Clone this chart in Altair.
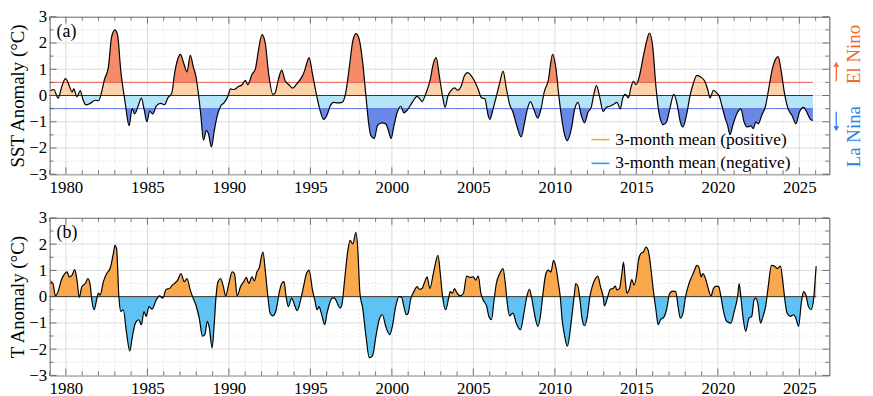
import altair as alt
import pandas as pd

FONT = "Liberation Serif, Times New Roman, Times, serif"
X_MIN, X_MAX = 1979.0, 2026.84
W, H = 787, 159
PX_PER_YEAR = W / (X_MAX - X_MIN)
PX_PER_UNIT = H / 6.0

# ---------------- data ----------------
sst_year = [1979.06, 1979.26, 1979.52, 1979.77, 1979.97, 1980.17, 1980.38, 1980.48, 1980.68, 1980.88,
            1981.02, 1981.23, 1981.49, 1981.79, 1982.00, 1982.20, 1982.36, 1982.60, 1982.81, 1983.01,
            1983.17, 1983.37, 1983.62, 1983.88, 1984.06, 1984.22, 1984.43, 1984.63, 1984.79, 1984.97,
            1985.14, 1985.34, 1985.54, 1985.81, 1986.05, 1986.25, 1986.50, 1986.66, 1986.86, 1987.02,
            1987.22, 1987.43, 1987.63, 1987.83, 1987.97, 1988.12, 1988.28, 1988.44, 1988.62, 1988.74,
            1988.93, 1989.09, 1989.29, 1989.49, 1989.70, 1989.94, 1990.10, 1990.30, 1990.61, 1990.81,
            1991.01, 1991.16, 1991.42, 1991.62, 1991.82, 1992.03, 1992.23, 1992.43, 1992.70, 1992.84,
            1993.04, 1993.24, 1993.45, 1993.65, 1993.91, 1994.15, 1994.46, 1994.62, 1994.76, 1994.92,
            1995.13, 1995.37, 1995.57, 1995.82, 1996.02, 1996.22, 1996.42, 1996.69, 1996.95, 1997.15,
            1997.40, 1997.60, 1997.80, 1998.00, 1998.21, 1998.41, 1998.57, 1998.71, 1998.92, 1999.12,
            1999.38, 1999.62, 1999.79, 1999.95, 2000.13, 2000.33, 2000.54, 2000.74, 2001.00, 2001.25,
            2001.55, 2001.69, 2001.85, 2002.10, 2002.36, 2002.52, 2002.72, 2002.91, 2003.11, 2003.27,
            2003.43, 2003.64, 2003.84, 2004.04, 2004.25, 2004.45, 2004.65, 2004.85, 2005.06, 2005.30,
            2005.50, 2005.70, 2005.91, 2006.01, 2006.21, 2006.41, 2006.62, 2006.82, 2007.02, 2007.22,
            2007.43, 2007.69, 2007.93, 2008.14, 2008.34, 2008.50, 2008.70, 2008.95, 2009.15, 2009.35,
            2009.59, 2009.86, 2010.06, 2010.26, 2010.45, 2010.62, 2010.76, 2011.01, 2011.22, 2011.42,
            2011.62, 2011.82, 2012.03, 2012.23, 2012.39, 2012.55, 2012.76, 2012.96, 2013.16, 2013.36,
            2013.61, 2013.81, 2014.01, 2014.17, 2014.32, 2014.52, 2014.66, 2014.82, 2014.98, 2015.19,
            2015.43, 2015.63, 2015.80, 2016.00, 2016.20, 2016.40, 2016.65, 2016.85, 2017.05, 2017.30,
            2017.50, 2017.70, 2017.86, 2018.07, 2018.31, 2018.47, 2018.71, 2018.98, 2019.18, 2019.38,
            2019.52, 2019.73, 2019.93, 2020.09, 2020.25, 2020.46, 2020.60, 2020.74, 2020.94, 2021.21,
            2021.41, 2021.61, 2021.81, 2022.02, 2022.18, 2022.32, 2022.48, 2022.69, 2022.93, 2023.13,
            2023.33, 2023.54, 2023.70, 2023.90, 2024.10, 2024.31, 2024.55, 2024.79, 2025.00, 2025.26,
            2025.46, 2025.68, 2025.83]
sst_val = [0.18, 0.23, -0.10, 0.38, 0.64, 0.43, 0.13, 0.25, -0.05, 0.19,
           -0.10, -0.36, -0.30, -0.18, -0.20, 0.16, 0.60, 1.06, 2.25, 2.50,
           2.30, 0.92, -0.20, -1.15, -0.50, -0.70, -0.40, -0.10, -0.50, -1.00,
           -0.60, -0.70, -0.40, -0.30, -0.35, -0.10, 0.10, 0.81, 1.38, 1.57,
           1.25, 0.90, 1.53, 1.06, 0.75, 0.12, -0.76, -1.70, -1.33, -1.45,
           -1.96, -1.39, -0.76, -0.41, -0.28, -0.03, 0.25, 0.23, 0.35, 0.41,
           0.58, 0.41, 0.81, 1.00, 1.75, 2.32, 2.00, 0.87, 0.04, 0.10,
           0.62, 0.97, 0.56, 0.43, 0.28, 0.43, 0.69, 0.90, 1.19, 1.44,
           0.81, 0.04, -0.51, -0.91, -0.74, -0.39, -0.26, -0.28, -0.26, 0.04,
           1.13, 2.07, 2.36, 2.13, 1.25, -0.03, -1.03, -1.52, -1.64, -1.14,
           -1.04, -1.08, -1.33, -1.64, -1.14, -0.64, -0.41, -0.66, -0.51, -0.26,
           -0.03, -0.11, -0.23, 0.10, 0.62, 1.16, 1.44, 0.75, -0.03, -0.45,
           -0.03, 0.20, 0.29, 0.20, 0.35, 0.75, 0.87, 0.77, 0.56, 0.23,
           -0.09, -0.12, -0.76, -0.91, -0.51, -0.03, 0.49, 0.93, 0.29, -0.33,
           -0.64, -1.21, -1.58, -1.03, -0.45, -0.23, -0.51, -0.86, -0.51, 0.14,
           0.56, 1.57, 1.06, -0.10, -1.00, -1.55, -1.72, -1.27, -0.51, -0.26,
           -0.76, -1.04, -0.64, -0.45, 0.04, 0.38, -0.09, -0.61, -0.45, -0.41,
           -0.33, -0.26, -0.51, -0.09, 0.04, -0.09, 0.29, 0.54, 0.41, 0.75,
           1.50, 2.07, 2.38, 1.88, 0.35, -0.70, -1.11, -1.01, -0.51, 0.04,
           -0.33, -1.01, -1.20, -0.76, 0.04, 0.41, 0.77, 0.69, 0.56, 0.23,
           -0.09, 0.20, 0.10, -0.03, -0.39, -0.89, -1.14, -1.49, -1.08, -0.64,
           -0.51, -1.01, -1.20, -1.16, -1.26, -1.01, -1.08, -0.76, -0.39, 0.29,
           0.98, 1.38, 1.48, 0.87, 0.04, -0.51, -0.76, -1.08, -0.64, -0.45,
           -0.64, -0.91, -0.95]

# El Nino episodes drawn with the darker fill above +0.5 (start, end years)
el_nino_windows = [(1981.95, 1983.9), (1986.2, 1988.3), (1990.7, 1993.95), (1993.85, 1995.6),
                   (1996.9, 1998.6), (2001.8, 2003.3), (2009.1, 2010.5), (2014.9, 2016.45),
                   (2022.9, 2024.35)]

t_year = [1979.06, 1979.20, 1979.36, 1979.52, 1979.73, 1979.93, 1980.07, 1980.21, 1980.38, 1980.54,
          1980.68, 1980.82, 1980.98, 1981.19, 1981.35, 1981.49, 1981.59, 1981.73, 1981.89, 1982.00,
          1982.10, 1982.30, 1982.50, 1982.71, 1982.91, 1983.01, 1983.11, 1983.25, 1983.37, 1983.52,
          1983.72, 1983.92, 1984.08, 1984.27, 1984.47, 1984.63, 1984.79, 1984.93, 1985.10, 1985.28,
          1985.54, 1985.74, 1985.95, 1986.15, 1986.35, 1986.55, 1986.66, 1986.86, 1987.06, 1987.26,
          1987.43, 1987.63, 1987.77, 1987.97, 1988.18, 1988.38, 1988.52, 1988.68, 1988.80, 1988.97,
          1989.09, 1989.21, 1989.33, 1989.49, 1989.66, 1989.80, 1990.00, 1990.20, 1990.34, 1990.51,
          1990.71, 1990.91, 1991.07, 1991.22, 1991.42, 1991.56, 1991.72, 1991.88, 1991.97, 1992.09,
          1992.23, 1992.37, 1992.53, 1992.70, 1992.90, 1993.10, 1993.24, 1993.38, 1993.51, 1993.65,
          1993.85, 1993.99, 1994.19, 1994.40, 1994.60, 1994.76, 1994.92, 1995.13, 1995.27, 1995.41,
          1995.53, 1995.67, 1995.88, 1996.02, 1996.18, 1996.34, 1996.48, 1996.69, 1996.83, 1996.95,
          1997.09, 1997.30, 1997.44, 1997.60, 1997.80, 1997.90, 1998.04, 1998.21, 1998.41, 1998.61,
          1998.81, 1999.02, 1999.22, 1999.42, 1999.62, 1999.87, 2000.03, 2000.23, 2000.44, 2000.60,
          2000.74, 2000.88, 2001.00, 2001.14, 2001.35, 2001.55, 2001.69, 2001.85, 2002.02, 2002.16,
          2002.33, 2002.55, 2002.83, 2002.97, 2003.11, 2003.31, 2003.48, 2003.58, 2003.72, 2003.84,
          2003.98, 2004.18, 2004.39, 2004.59, 2004.79, 2005.00, 2005.14, 2005.30, 2005.46, 2005.60,
          2005.81, 2005.95, 2006.11, 2006.27, 2006.41, 2006.62, 2006.82, 2006.96, 2007.08, 2007.22,
          2007.43, 2007.63, 2007.89, 2008.10, 2008.30, 2008.44, 2008.58, 2008.74, 2008.95, 2009.11,
          2009.25, 2009.45, 2009.59, 2009.76, 2009.92, 2010.06, 2010.22, 2010.33, 2010.45, 2010.60,
          2010.77, 2010.97, 2011.18, 2011.28, 2011.42, 2011.54, 2011.68, 2011.82, 2011.99, 2012.15,
          2012.29, 2012.49, 2012.63, 2012.80, 2012.96, 2013.04, 2013.20, 2013.40, 2013.57, 2013.71,
          2013.81, 2013.97, 2014.11, 2014.21, 2014.32, 2014.42, 2014.58, 2014.72, 2014.86, 2015.03,
          2015.13, 2015.27, 2015.43, 2015.59, 2015.73, 2015.88, 2016.04, 2016.20, 2016.34, 2016.48,
          2016.69, 2016.85, 2017.05, 2017.25, 2017.42, 2017.56, 2017.70, 2017.86, 2018.02, 2018.23,
          2018.43, 2018.57, 2018.71, 2018.83, 2018.98, 2019.08, 2019.24, 2019.38, 2019.58, 2019.73,
          2019.89, 2020.05, 2020.19, 2020.33, 2020.54, 2020.80, 2021.00, 2021.21, 2021.31, 2021.41,
          2021.55, 2021.71, 2021.91, 2022.08, 2022.22, 2022.32, 2022.45, 2022.62, 2022.77, 2022.93,
          2023.09, 2023.29, 2023.50, 2023.64, 2023.84, 2024.00, 2024.10, 2024.25, 2024.45, 2024.65,
          2024.79, 2024.95, 2025.12, 2025.26, 2025.40, 2025.56, 2025.72, 2025.87, 2025.97, 2026.03]
t_val = [0.57, 0.50, 0.03, 0.19, 0.65, 0.88, 0.94, 0.75, 0.82, 1.03,
         0.63, -0.03, 0.38, 0.50, 0.69, 0.44, -0.13, -0.50, -0.10, 0.13,
         0.06, 0.57, 0.88, 1.07, 1.64, 1.95, 1.82, 0.00, -0.57, -0.50,
         -1.38, -2.07, -1.51, -1.00, -0.88, -1.07, -0.57, -0.75, -0.38, -0.48,
         -0.13, 0.03, -0.06, 0.28, 0.31, 0.45, 0.50, 0.63, 0.88, 0.57,
         0.69, 0.25, 0.00, -0.31, -0.82, -1.51, -1.45, -0.94, -1.19, -1.95,
         -1.13, 0.00, 0.57, 0.69, 0.38, 0.03, 0.50, 0.94, 0.88, 0.03,
         0.38, 0.57, 0.73, 0.50, 0.75, 0.60, 0.94, 1.13, 1.45, 1.70,
         1.01, 0.13, -0.63, -0.73, -0.50, 0.19, 0.50, 0.57, 0.00, -0.38,
         -0.06, -0.25, -0.53, -0.13, 0.45, 0.88, 1.01, 0.25, -0.13, -0.50,
         -0.38, -0.63, -1.07, -0.63, -0.25, -0.06, -0.06, -0.31, -0.44, -0.25,
         0.57, 1.76, 2.14, 2.01, 2.45, 1.89, 0.13, -0.44, -1.51, -2.33,
         -2.26, -1.51, -0.88, -0.69, -1.13, -1.45, -1.13, -0.38, 0.00, -0.03,
         -0.38, -0.69, -0.63, -0.13, 0.19, 0.38, 0.28, 0.31, 0.57, 0.75,
         0.31, 0.90, 1.57, 0.88, 0.00, -0.50, -0.06, 0.19, 0.13, 0.31,
         0.15, 0.03, 0.13, 0.78, 0.73, 0.75, 0.63, 0.78, 0.13, -0.13,
         -0.35, -0.75, -0.88, -0.13, 0.50, 0.88, 1.07, 0.50, -0.25, -0.73,
         -0.63, -1.01, -1.26, -0.63, 0.06, 0.28, -0.06, -0.63, -1.13, -0.75,
         0.00, 0.88, 1.01, 0.94, 1.38, 1.13, 0.50, 0.00, -0.90, -1.50,
         -1.89, -1.13, 0.00, 0.50, 0.38, -0.13, -0.88, -1.11, -0.75, 0.00,
         0.38, 0.69, 0.78, 0.38, 0.00, -0.35, -0.10, 0.28, 0.31, 0.40,
         0.25, 0.31, 0.88, 1.32, 0.63, 0.13, 0.31, 0.65, 0.44, 0.88,
         1.38, 1.64, 1.70, 1.89, 1.76, 1.13, 0.25, -0.50, -1.07, -0.88,
         -0.78, -0.50, 0.13, 0.21, 0.19, -0.38, -0.82, -0.63, 0.00, 0.50,
         0.80, 1.01, 1.19, 1.13, 0.75, 0.88, 0.69, 0.38, 0.03, 0.31,
         0.40, 0.38, 0.00, -0.50, -0.94, -1.01, -0.57, 0.00, 0.50, 0.00,
         -0.82, -1.32, -0.82, -0.75, -0.13, -0.06, -0.25, -1.01, -0.75, -0.38,
         0.38, 1.19, 1.16, 1.07, 1.16, 0.50, -0.06, -0.63, -0.75, -0.69,
         -0.82, -1.13, -0.25, 0.19, 0.06, -0.38, -0.50, -0.13, 0.63, 1.16]

x_major = [1980, 1985, 1990, 1995, 2000, 2005, 2010, 2015, 2020, 2025]
x_minor = [yr for yr in range(1979, 2027) if yr % 5 != 0]
y_major = [-3, -2, -1, 0, 1, 2, 3]
y_minor = [-2.5, -1.5, -0.5, 0.5, 1.5, 2.5]

sst_thresholds = [0.5, 0.0, -0.5]
sst_threshold_colors = ["#E55B4D", "#333333", "#5570E6"]
SALMON, PEACH, LIGHT_BLUE, DARK_BLUE = "#F58B67", "#FCD2AA", "#B4E4F8", "#6A88E6"
t_fill_colors = ["#F9A84B", "#5EC2F2"]
NINO_COLOR, NINA_COLOR = "#F06A2C", "#2F80E6"

legend_labels = ["3-month mean (positive)", "3-month mean (negative)"]
legend_colors = ["#F5A04A", "#1FA2E6"]

# ---------------- helpers ----------------
xscale = alt.Scale(domain=[X_MIN, X_MAX], nice=False, zero=False)
yscale = alt.Scale(domain=[-3, 3], nice=False, zero=False)

x_axis = alt.Axis(values=x_major, format="d", title=None, labelFont=FONT, labelFontSize=17,
                  labelColor="black", labelPadding=5, ticks=False, tickSize=0, domain=False,
                  grid=False, labelFlush=False, labelOverlap=False)


def y_axis(title):
    return alt.Axis(values=y_major, title=title, titleFont=FONT, titleFontSize=19,
                    titleFontWeight="normal", titleColor="black", titlePadding=2,
                    labelFont=FONT, labelFontSize=17, labelColor="black", labelPadding=3,
                    ticks=False, tickSize=0, domain=False, grid=False, labelFlush=False,
                    minExtent=20, maxExtent=20)


def enc_x():
    return alt.X("year:Q", scale=xscale, axis=x_axis)


def enc_y(title):
    return alt.Y("val:Q", scale=yscale, axis=y_axis(title))


def gradient(vals, cuts, colors):
    top = max(max(vals), 0.0)
    bot = min(min(vals), 0.0)
    off = [(top - c) / (top - bot) for c in cuts]
    stops = [alt.GradientStop(color=colors[0], offset=0)]
    for i, o in enumerate(off):
        o = min(max(o, 0.0), 1.0)
        stops.append(alt.GradientStop(color=colors[i], offset=o))
        stops.append(alt.GradientStop(color=colors[i + 1], offset=o))
    stops.append(alt.GradientStop(color=colors[-1], offset=1))
    return alt.Gradient(gradient="linear", stops=stops, x1=0, x2=0, y1=0, y2=1)


def grid_layers(title):
    vmin = alt.Chart(pd.DataFrame({"year": x_minor})).mark_rule(
        color="#e3e3e3", strokeWidth=0.8, strokeDash=[2, 2]).encode(x=enc_x())
    vmaj = alt.Chart(pd.DataFrame({"year": x_major})).mark_rule(
        color="#d2d2d2", strokeWidth=0.8).encode(x=enc_x())
    hmin = alt.Chart(pd.DataFrame({"val": y_minor})).mark_rule(
        color="#e3e3e3", strokeWidth=0.8, strokeDash=[2, 2]).encode(y=enc_y(title))
    hmaj = alt.Chart(pd.DataFrame({"val": y_major})).mark_rule(
        color="#d2d2d2", strokeWidth=0.8).encode(y=enc_y(title))
    return [vmin, vmaj, hmin, hmaj]


def tick_layer(title):
    rows = []
    for xs, ln in ((x_major, 7), (x_minor, 4)):
        d = ln / PX_PER_UNIT
        for xv in xs:
            rows.append((xv, xv, -3, -3 + d))
            rows.append((xv, xv, 3, 3 - d))
    for ys, ln in ((y_major, 7), (y_minor, 4)):
        d = ln / PX_PER_YEAR
        for yv in ys:
            rows.append((X_MIN, X_MIN + d, yv, yv))
            rows.append((X_MAX, X_MAX - d, yv, yv))
    df = pd.DataFrame(rows, columns=["year", "year2", "val", "val2"])
    return alt.Chart(df).mark_rule(color="#555555", strokeWidth=0.8).encode(
        x=enc_x(), x2="year2:Q", y=enc_y(title), y2="val2:Q")


def tag_layer(label):
    return alt.Chart(pd.DataFrame({"t": [label]})).mark_text(
        align="left", baseline="middle", font=FONT, fontSize=18, color="black"
    ).encode(x=alt.value(7), y=alt.value(15), text="t:N")


def note(label, color, x, y, size, angle=0):
    return alt.Chart(pd.DataFrame({"t": [label]})).mark_text(
        align="center", baseline="middle", font=FONT, fontSize=size, color=color, angle=angle
    ).encode(x=alt.value(x), y=alt.value(y), text="t:N")


def arrow(color, x, y_tail, y_head, shape):
    one = pd.DataFrame({"k": [0]})
    shaft = alt.Chart(one).mark_rule(color=color, strokeWidth=1.3).encode(
        x=alt.value(x), y=alt.value(y_tail), y2=alt.value(y_head))
    head = alt.Chart(one).mark_point(shape=shape, filled=True, size=34, color=color,
                                     opacity=1).encode(x=alt.value(x), y=alt.value(y_head))
    return [shaft, head]


# ---------------- panel (a) ----------------
title_a = "SST Anomaly (°C)"
df_a = pd.DataFrame({"year": sst_year, "val": sst_val})
area_a = alt.Chart(df_a).mark_area(
    fill=gradient(sst_val, [0.0, -0.5], [PEACH, LIGHT_BLUE, DARK_BLUE]), interpolate="monotone"
).encode(x=enc_x(), y=enc_y(title_a), y2=alt.datum(0))

event_layers = []
for (s, e) in el_nino_windows:
    sub = df_a[(df_a["year"] >= s) & (df_a["year"] <= e)]
    event_layers.append(alt.Chart(sub).mark_area(
        fill=gradient(list(sub["val"]), [0.5], [SALMON, "rgba(245,139,103,0)"]),
        interpolate="monotone"
    ).encode(x=enc_x(), y=enc_y(title_a), y2=alt.datum(0)))

line_a = alt.Chart(df_a).mark_line(color="black", strokeWidth=1.2, interpolate="monotone").encode(
    x=enc_x(), y=enc_y(title_a))
thr_df = pd.DataFrame({"year": [X_MIN] * 3, "year2": [sst_year[-1]] * 3,
                       "val": sst_thresholds, "c": sst_threshold_colors})
thr_a = alt.Chart(thr_df).mark_rule(strokeWidth=1).encode(
    x=enc_x(), x2="year2:Q", y=enc_y(title_a), stroke=alt.Stroke("c:N", scale=None))
leg_df = pd.DataFrame({"year": [X_MIN, X_MIN], "val": [0.0, 0.0], "series": legend_labels})
legend_a = alt.Chart(leg_df).mark_line(strokeWidth=1.6).encode(
    x=enc_x(), y=enc_y(title_a),
    color=alt.Color("series:N", scale=alt.Scale(domain=legend_labels, range=legend_colors),
                    legend=alt.Legend(title=None, orient="none", legendX=546, legendY=114,
                                      symbolType="stroke", symbolSize=324, symbolStrokeWidth=1.6,
                                      labelFont=FONT, labelFontSize=17.5, labelColor="black",
                                      labelOffset=5, rowPadding=5, padding=0, labelLimit=400)))

panel_a = alt.layer(
    *grid_layers(title_a), area_a, *event_layers, thr_a, line_a, tick_layer(title_a),
    tag_layer("(a)"),
    *arrow(NINO_COLOR, 794, 65, 48, "triangle-up"),
    note("El Nino", NINO_COLOR, 812, 38, 19, 270),
    *arrow(NINA_COLOR, 794, 96, 113, "triangle-down"),
    note("La Nina", NINA_COLOR, 812, 121, 19, 270),
    legend_a,
).properties(width=W, height=H)

# ---------------- panel (b) ----------------
title_b = "T Anomaly (°C)"
df_b = pd.DataFrame({"year": t_year, "val": t_val})
area_b = alt.Chart(df_b).mark_area(
    fill=gradient(t_val, [0.0], t_fill_colors), interpolate="monotone"
).encode(x=enc_x(), y=enc_y(title_b), y2=alt.datum(0))
line_b = alt.Chart(df_b).mark_line(color="black", strokeWidth=1.2, interpolate="monotone").encode(
    x=enc_x(), y=enc_y(title_b))
zero_b = alt.Chart(pd.DataFrame({"year": [X_MIN], "year2": [t_year[-1]], "val": [0.0]})).mark_rule(
    color="#333333", strokeWidth=1).encode(x=enc_x(), x2="year2:Q", y=enc_y(title_b))

panel_b = alt.layer(
    *grid_layers(title_b), area_b, zero_b, line_b, tick_layer(title_b), tag_layer("(b)"),
).properties(width=W, height=H)

chart = alt.vconcat(panel_a, panel_b, spacing=12).resolve_scale(color="independent").properties(
    padding={"left": 0, "top": -3, "right": 0, "bottom": 0}, background="white"
).configure_view(stroke="#555555", strokeWidth=1)

chart.save("out.html", embed_options={"renderer": "svg", "actions": False})
